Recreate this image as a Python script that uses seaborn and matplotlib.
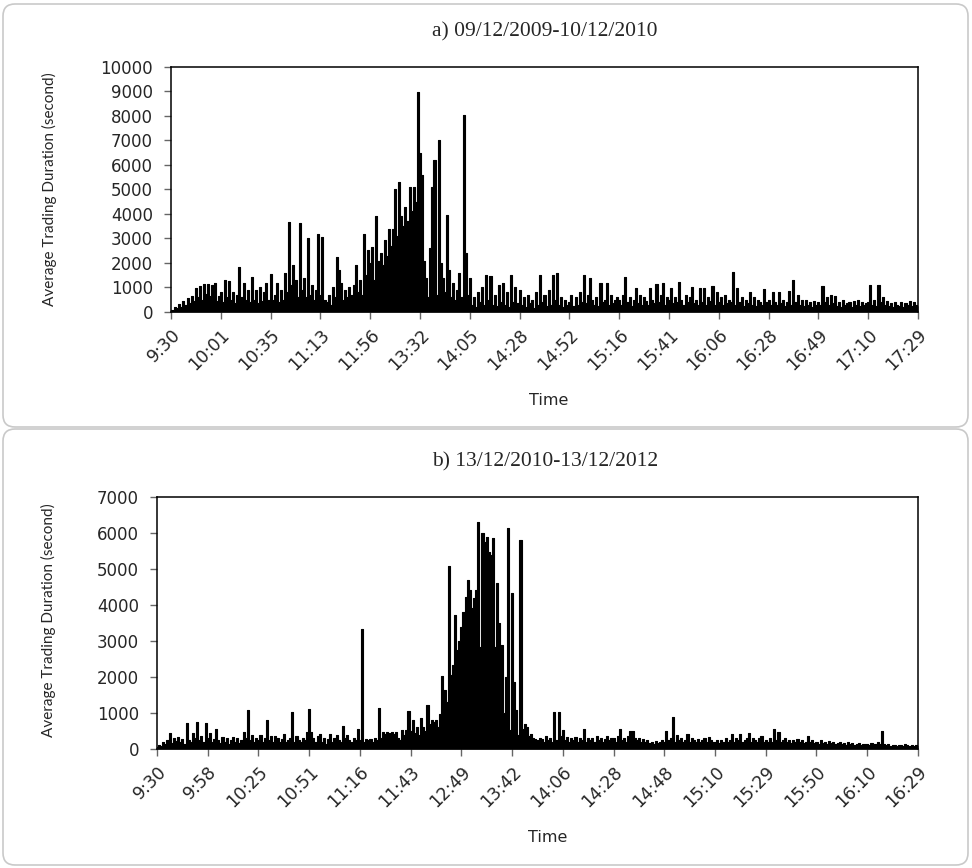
import numpy as np
import pandas as pd
import seaborn as sns
import matplotlib.pyplot as plt
from matplotlib.patches import FancyBboxPatch

sns.set_style('white')
plt.rcParams['font.family'] = ['DejaVu Sans']

# tick labels (one label every 24 observations)
labels_a = ['9:30', '10:01', '10:35', '11:13', '11:56', '13:32', '14:05', '14:28',
            '14:52', '15:16', '15:41', '16:06', '16:28', '16:49', '17:10', '17:29']
labels_b = ['9:30', '9:58', '10:25', '10:51', '11:16', '11:43', '12:49', '13:42',
            '14:06', '14:28', '14:48', '15:10', '15:29', '15:50', '16:10', '16:29']

# a) 09/12/2009-10/12/2010, average trading duration (second)
dur_a = [100, 60, 220, 150, 320, 200, 450, 300, 580, 380, 650, 450, 980, 600, 1050, 500, 1150, 750, 1150, 650, 1100, 1200, 450, 650,
         830, 400, 1300, 600, 1250, 500, 800, 350, 700, 1850, 600, 1200, 500, 900, 400, 1440, 500, 900, 350, 1000, 450, 800, 1170, 500,
         1540, 500, 700, 1170, 400, 900, 500, 1610, 800, 3690, 1100, 1920, 1300, 600, 3620, 900, 1380, 600, 3000, 700, 1100, 500, 900, 3170,
         700, 3070, 500, 400, 700, 300, 1000, 600, 2230, 1700, 1200, 500, 900, 600, 1000, 700, 1100, 1920, 800, 1300, 700, 3170, 1500, 2530,
         2000, 2660, 1300, 3920, 2100, 2400, 1900, 2940, 2300, 3400, 2700, 3400, 5000, 3100, 5310, 3900, 3500, 4300, 3700, 5100, 4100, 5100, 4500, 8980,
         6500, 5600, 2100, 1400, 600, 2600, 5100, 6200, 700, 7000, 2000, 1400, 800, 3950, 1700, 600, 1200, 500, 900, 1600, 600, 8040, 2400, 700,
         1400, 300, 600, 200, 800, 400, 1000, 300, 1500, 500, 1450, 300, 700, 250, 1100, 400, 1200, 300, 800, 200, 1500, 400, 1000, 350,
         900, 300, 600, 200, 700, 350, 500, 150, 800, 300, 1500, 400, 700, 250, 900, 300, 1500, 500, 1600, 300, 600, 200, 500, 300,
         400, 700, 250, 600, 300, 800, 400, 1500, 350, 700, 1400, 500, 300, 600, 250, 1180, 400, 500, 1180, 300, 700, 350, 500, 600,
         500, 300, 700, 1430, 400, 600, 250, 500, 960, 350, 700, 300, 600, 450, 300, 960, 500, 350, 1140, 400, 700, 1170, 300, 600,
         500, 960, 350, 600, 400, 1220, 500, 300, 700, 400, 600, 1030, 350, 500, 300, 960, 400, 960, 300, 600, 450, 1050, 300, 800,
         400, 600, 300, 700, 350, 500, 400, 1630, 300, 960, 400, 600, 250, 500, 350, 800, 300, 600, 250, 500, 400, 300, 930, 400,
         500, 300, 800, 400, 300, 800, 350, 500, 250, 400, 850, 300, 1300, 400, 700, 300, 500, 250, 500, 300, 400, 200, 450, 300,
         400, 300, 1050, 400, 600, 300, 700, 350, 650, 250, 400, 200, 500, 300, 350, 400, 200, 450, 300, 500, 250, 400, 300, 350,
         400, 1090, 300, 500, 250, 1090, 400, 600, 300, 450, 250, 350, 200, 400, 300, 250, 400, 200, 350, 300, 450, 250, 400, 300,
         250]

# b) 13/12/2010-13/12/2012
dur_b = [60, 120, 80, 200, 150, 250, 440, 180, 300, 220, 330, 200, 280, 150, 730, 250, 200, 450, 300, 760, 250, 350, 200, 730,
         300, 440, 200, 280, 560, 250, 180, 340, 200, 300, 150, 250, 340, 200, 300, 180, 250, 480, 300, 1080, 250, 390, 200, 300,
         250, 400, 200, 300, 800, 250, 360, 200, 360, 300, 200, 280, 420, 200, 250, 300, 1040, 200, 360, 250, 200, 300, 250, 480,
         1100, 480, 300, 200, 350, 420, 200, 300, 150, 280, 420, 200, 300, 400, 250, 200, 645, 300, 400, 250, 200, 300, 250, 560,
         250, 3320, 200, 280, 250, 270, 200, 300, 250, 1150, 300, 460, 420, 460, 450, 460, 420, 460, 300, 250, 540, 400, 540, 1060,
         500, 800, 450, 600, 400, 860, 600, 500, 1220, 700, 800, 750, 800, 600, 970, 2030, 1640, 1300, 5080, 2060, 2330, 3720, 2750, 3000,
         3390, 3800, 4220, 4690, 4410, 3910, 4200, 4410, 6310, 2840, 5990, 5750, 5900, 5460, 5400, 5870, 2840, 4600, 3500, 2900, 990, 2000, 6130, 530,
         4320, 1870, 1090, 400, 5810, 550, 700, 600, 350, 430, 300, 290, 250, 300, 290, 200, 350, 250, 300, 200, 1020, 250, 1020, 350,
         530, 250, 340, 200, 300, 250, 340, 200, 300, 250, 550, 200, 300, 250, 300, 200, 350, 250, 300, 200, 280, 350, 250, 300,
         300, 200, 350, 550, 250, 300, 200, 350, 500, 500, 300, 250, 300, 200, 280, 200, 250, 180, 200, 150, 220, 180, 200, 250,
         200, 500, 250, 300, 880, 200, 400, 250, 300, 200, 250, 430, 200, 300, 250, 200, 280, 200, 250, 300, 200, 320, 250, 200,
         200, 260, 180, 250, 200, 300, 200, 250, 430, 200, 300, 250, 430, 200, 250, 300, 450, 200, 300, 250, 200, 300, 360, 200,
         250, 200, 300, 200, 550, 250, 480, 200, 250, 300, 200, 250, 180, 250, 200, 280, 200, 250, 180, 200, 360, 200, 250, 180,
         200, 150, 250, 180, 200, 150, 220, 180, 200, 150, 180, 200, 150, 180, 120, 200, 150, 180, 120, 150, 180, 120, 150, 130,
         150, 120, 180, 130, 150, 200, 150, 500, 150, 100, 130, 90, 120, 100, 80, 120, 100, 90, 130, 100, 80, 120, 90, 110,
         100]

step = 24

fig = plt.figure(figsize=(9.72, 8.68), dpi=100)

# rounded chart-area frames like the excel export
for y0, h in [(4.41, 4.23), (0.03, 4.36)]:
    box = FancyBboxPatch((0.03, y0), 9.65, h, boxstyle='round,pad=0,rounding_size=0.12',
                         transform=fig.dpi_scale_trans, facecolor='none',
                         edgecolor='#c9c9c9', linewidth=1.2)
    fig.add_artist(box)

ax_a = fig.add_axes([0.1759, 0.6406, 0.7685, 0.2823])
ax_b = fig.add_axes([0.1615, 0.1371, 0.7829, 0.2903])


def panel(ax, vals, labels, ymax, xl, yl):
    df = pd.DataFrame({'pos': np.arange(len(vals)), 'dur': vals})
    # dense excel line looks like thin columns, so draw it as steps
    ax.fill_between(df['pos'], df['dur'], step='mid', color='black', linewidth=0)
    sns.lineplot(data=df, x='pos', y='dur', ax=ax, color='black', linewidth=0.8,
                 drawstyle='steps-mid')
    ax.set_xlim(0, len(vals) - 1)
    ax.set_ylim(0, ymax)
    ax.set_xticks(range(0, len(vals), step))
    ax.set_xticklabels(labels, rotation=45, ha='right', rotation_mode='anchor', fontsize=12.5)
    ax.set_yticks(range(0, ymax + 1, 1000))
    ax.tick_params(axis='y', labelsize=12, pad=8)
    ax.tick_params(axis='x', pad=5)
    ax.tick_params(bottom=True, left=True, direction='out', length=5, width=1, color='#666666')
    for s in ax.spines.values():
        s.set_color('black')
        s.set_linewidth(1.1)
    ax.set_xlabel('Time', fontsize=11.5)
    ax.xaxis.set_label_coords(*xl)
    ax.set_ylabel('Average Trading Duration (second)', fontfamily='Lato', fontsize=11)
    ax.yaxis.set_label_coords(*yl)


panel(ax_a, dur_a, labels_a, 10000, (0.505, -0.33), (-0.152, 0.5))
panel(ax_b, dur_b, labels_b, 7000, (0.514, -0.32), (-0.133, 0.51))

fig.text(545 / 972, 1 - 32 / 868, 'a) 09/12/2009-10/12/2010', ha='center', va='center',
         fontfamily='Liberation Serif', fontsize=15.5)
fig.text(545 / 972, 1 - 462 / 868, 'b) 13/12/2010-13/12/2012', ha='center', va='center',
         fontfamily='Liberation Serif', fontsize=15.5)

fig.savefig('out.png', dpi=100)
